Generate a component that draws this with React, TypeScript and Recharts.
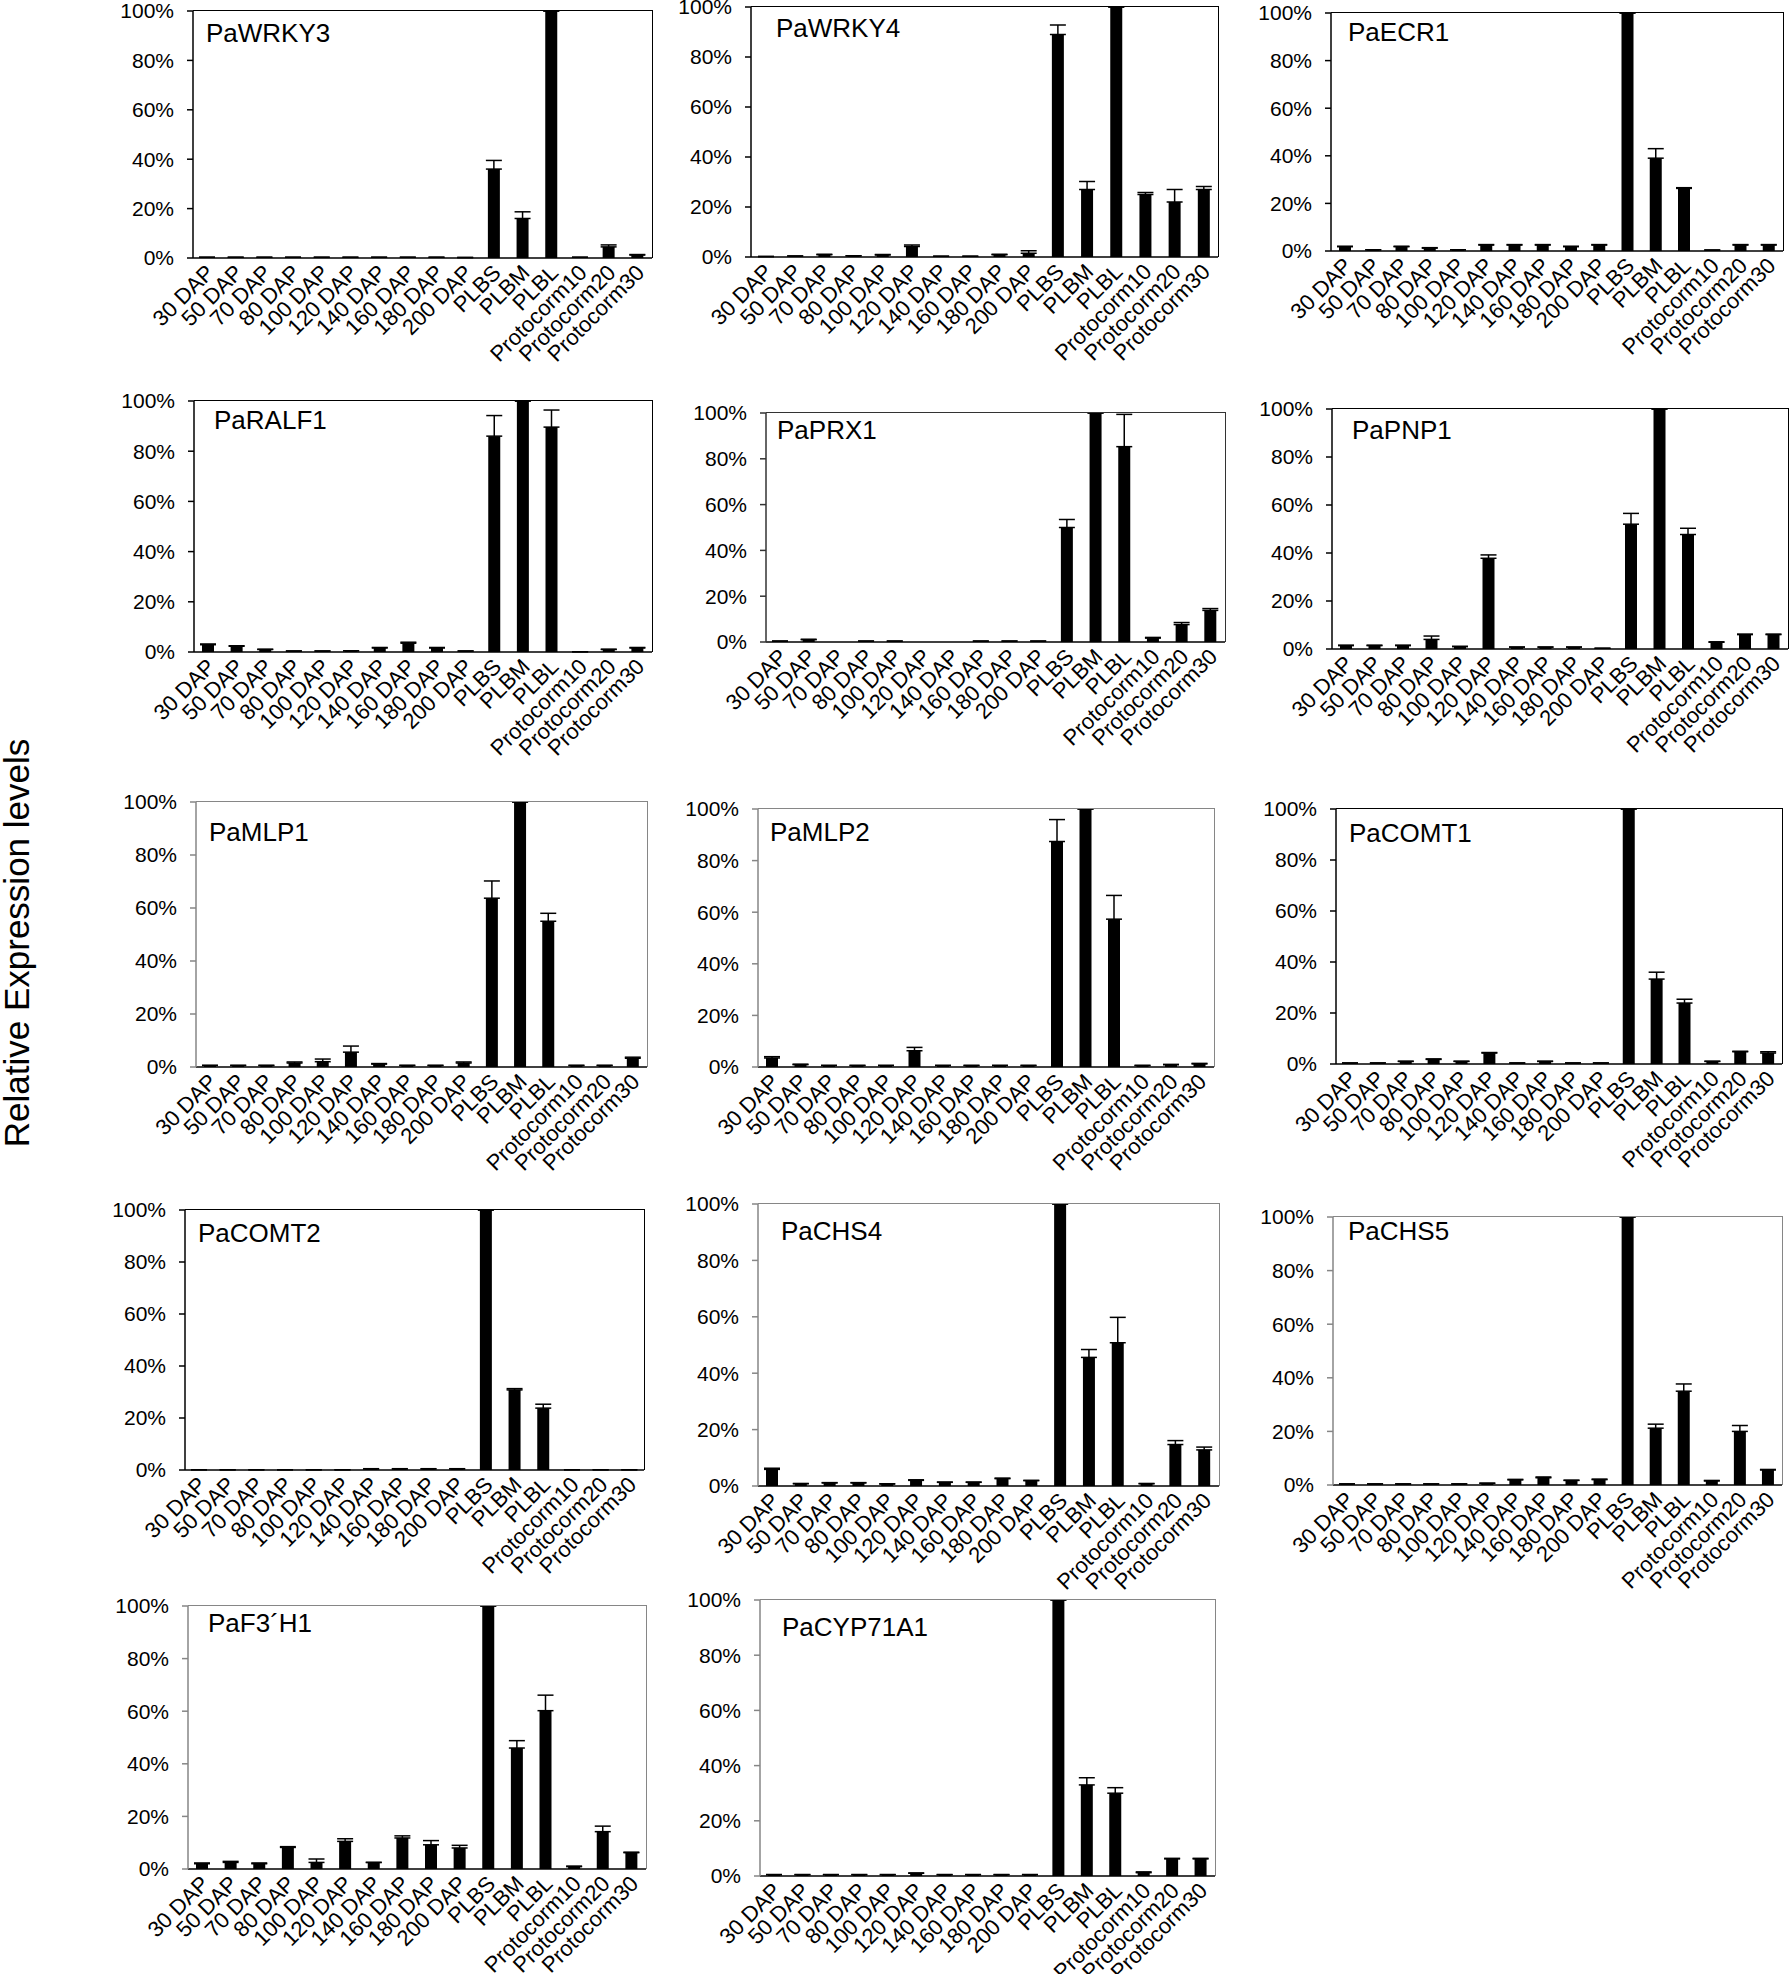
import React from "react";
import { BarChart, Bar, XAxis, YAxis, ErrorBar } from "recharts";

const CATEGORIES = [
  "30 DAP", "50 DAP", "70 DAP", "80 DAP", "100 DAP", "120 DAP", "140 DAP", "160 DAP",
  "180 DAP", "200 DAP", "PLBS", "PLBM", "PLBL", "Protocorm10", "Protocorm20", "Protocorm30",
];
const Y_TICKS = [0, 20, 40, 60, 80, 100];

const WRKY3_VALUES = [0.3, 0.3, 0.3, 0.3, 0.3, 0.3, 0.3, 0.3, 0.3, 0.2, 36, 16, 100, 0.3, 4.5, 1.2];
const WRKY3_ERRORS = [0, 0, 0, 0, 0, 0, 0, 0, 0, 0, 3.5, 2.7, 0, 0, 0.8, 0.2];
const WRKY4_VALUES = [0.2, 0.4, 0.9, 0.5, 0.8, 4.2, 0.3, 0.3, 0.9, 1.5, 89, 27, 100, 25, 22, 27];
const WRKY4_ERRORS = [0, 0, 0.2, 0, 0.2, 0.6, 0, 0, 0.2, 1, 3.8, 3.2, 0, 0.8, 5, 1.2];
const ECR1_VALUES = [1.8, 0.5, 1.8, 1.2, 0.5, 2.5, 2.5, 2.5, 1.8, 2.5, 100, 39, 26.3, 0.4, 2.5, 2.5];
const ECR1_ERRORS = [0.2, 0, 0.2, 0.2, 0, 0.2, 0.2, 0.2, 0.2, 0.2, 0, 4, 0.3, 0, 0.2, 0.2];
const RALF1_VALUES = [2.9, 2.3, 1, 0.4, 0.4, 0.5, 1.6, 3.5, 1.6, 0.4, 86, 100, 89.6, 0.1, 1, 1.6];
const RALF1_ERRORS = [0.3, 0.2, 0.1, 0, 0, 0, 0.2, 0.4, 0.2, 0, 8.2, 0, 6.8, 0, 0.1, 0.2];
const PRX1_VALUES = [0.4, 1, 0, 0.4, 0.4, 0, 0, 0.4, 0.4, 0.4, 50, 100, 85.3, 1.7, 7.6, 13.8];
const PRX1_ERRORS = [0, 0.2, 0, 0, 0, 0, 0, 0, 0, 0, 3.5, 0, 14.1, 0.3, 0.9, 0.8];
const PNP1_VALUES = [1.4, 1.4, 1.4, 4, 1, 37.8, 0.8, 0.8, 0.8, 0.3, 52, 100, 47.7, 2.8, 6, 6];
const PNP1_ERRORS = [0.2, 0.2, 0.2, 1.4, 0.1, 1.4, 0, 0, 0, 0, 4.5, 0, 2.6, 0.2, 0.2, 0.2];
const MLP1_VALUES = [0.6, 0.6, 0.6, 1.5, 2, 5.6, 1.1, 0.6, 0.6, 1.5, 63.7, 100, 55, 0.6, 0.6, 3.3];
const MLP1_ERRORS = [0, 0, 0, 0.4, 1, 2.3, 0.2, 0, 0, 0.4, 6.5, 0, 3, 0, 0, 0.4];
const MLP2_VALUES = [3.5, 0.9, 0.6, 0.6, 0.6, 6.3, 0.6, 0.6, 0.6, 0.6, 87.4, 100, 57.3, 0.6, 0.9, 1.2];
const MLP2_ERRORS = [0.5, 0.2, 0, 0, 0, 1.3, 0, 0, 0, 0, 8.5, 0, 9.2, 0, 0.1, 0.2];
const COMT1_VALUES = [0.4, 0.4, 1, 1.8, 1, 4.3, 0.4, 1, 0.4, 0.4, 100, 33.3, 23.9, 1, 4.8, 4.3];
const COMT1_ERRORS = [0, 0, 0.1, 0.2, 0.1, 0.2, 0, 0.1, 0, 0, 0, 2.7, 1.5, 0.1, 0.2, 0.5];
const COMT2_VALUES = [0.1, 0.1, 0.1, 0.1, 0.1, 0.1, 0.4, 0.4, 0.4, 0.4, 100, 30.8, 23.8, 0.1, 0.1, 0.1];
const COMT2_ERRORS = [0, 0, 0, 0, 0, 0, 0.1, 0.1, 0.1, 0.1, 0, 0.5, 1.5, 0, 0, 0];
const CHS4_VALUES = [5.9, 0.8, 1.1, 1.1, 0.7, 2, 1.3, 1.3, 2.6, 1.9, 100, 45.6, 50.8, 0.8, 14.7, 12.8];
const CHS4_ERRORS = [0.4, 0.1, 0.1, 0.1, 0.1, 0.2, 0.1, 0.1, 0.2, 0.1, 0, 2.8, 9, 0.1, 1.4, 1];
const CHS5_VALUES = [0.4, 0.4, 0.4, 0.4, 0.4, 0.6, 1.9, 2.7, 1.7, 2, 100, 21.2, 35, 1.5, 20, 5.6];
const CHS5_ERRORS = [0, 0, 0, 0, 0, 0.1, 0.2, 0.3, 0.1, 0.2, 0, 1.5, 2.7, 0.2, 2.2, 0.2];
const F3H1_VALUES = [2, 2.5, 2, 8.2, 2.5, 10.5, 2.5, 11.8, 9.2, 8, 100, 46, 60.2, 0.9, 14.2, 6.2];
const F3H1_ERRORS = [0.3, 0.4, 0.3, 0.3, 1.3, 1, 0, 0.8, 1.6, 1, 0, 2.8, 5.9, 0.2, 2.1, 0.2];
const CYP71A1_VALUES = [0.5, 0.5, 0.5, 0.5, 0.5, 1, 0.5, 0.5, 0.5, 0.5, 100, 33, 30, 1.2, 6.2, 6.2];
const CYP71A1_ERRORS = [0, 0, 0, 0, 0, 0.1, 0, 0, 0, 0, 0, 2.6, 2, 0.3, 0.2, 0.2];

const GENES = [
  { name: "PaWRKY3", values: WRKY3_VALUES, errors: WRKY3_ERRORS },
  { name: "PaWRKY4", values: WRKY4_VALUES, errors: WRKY4_ERRORS },
  { name: "PaECR1", values: ECR1_VALUES, errors: ECR1_ERRORS },
  { name: "PaRALF1", values: RALF1_VALUES, errors: RALF1_ERRORS },
  { name: "PaPRX1", values: PRX1_VALUES, errors: PRX1_ERRORS },
  { name: "PaPNP1", values: PNP1_VALUES, errors: PNP1_ERRORS },
  { name: "PaMLP1", values: MLP1_VALUES, errors: MLP1_ERRORS },
  { name: "PaMLP2", values: MLP2_VALUES, errors: MLP2_ERRORS },
  { name: "PaCOMT1", values: COMT1_VALUES, errors: COMT1_ERRORS },
  { name: "PaCOMT2", values: COMT2_VALUES, errors: COMT2_ERRORS },
  { name: "PaCHS4", values: CHS4_VALUES, errors: CHS4_ERRORS },
  { name: "PaCHS5", values: CHS5_VALUES, errors: CHS5_ERRORS },
  { name: "PaF3´H1", values: F3H1_VALUES, errors: F3H1_ERRORS },
  { name: "PaCYP71A1", values: CYP71A1_VALUES, errors: CYP71A1_ERRORS },
];

// plot-area box of every panel on the page (px), title offset inside it, frame colour
const GRAY = "#868686";
const LAYOUT = [
  { l: 193, r: 652, t: 11, b: 258, tx: 13, ty: 31, frame: "#000" },
  { l: 751, r: 1218, t: 7, b: 257, tx: 25, ty: 30, frame: "#000" },
  { l: 1331, r: 1783, t: 13, b: 251, tx: 17, ty: 28, frame: "#000" },
  { l: 194, r: 652, t: 401, b: 652, tx: 20, ty: 28, frame: "#000" },
  { l: 766, r: 1225, t: 413, b: 642, tx: 11, ty: 26, frame: "#333" },
  { l: 1332, r: 1788, t: 409, b: 649, tx: 20, ty: 30, frame: "#000" },
  { l: 196, r: 647, t: 802, b: 1067, tx: 13, ty: 39, frame: GRAY },
  { l: 758, r: 1214, t: 809, b: 1067, tx: 12, ty: 32, frame: GRAY },
  { l: 1336, r: 1782, t: 809, b: 1064, tx: 13, ty: 33, frame: "#000" },
  { l: 185, r: 644, t: 1210, b: 1470, tx: 13, ty: 32, frame: "#000" },
  { l: 758, r: 1219, t: 1204, b: 1486, tx: 23, ty: 36, frame: GRAY },
  { l: 1333, r: 1782, t: 1217, b: 1485, tx: 15, ty: 23, frame: GRAY },
  { l: 188, r: 646, t: 1606, b: 1869, tx: 20, ty: 26, frame: GRAY },
  { l: 760, r: 1215, t: 1600, b: 1876, tx: 22, ty: 36, frame: GRAY },
];

const FONT = "'Liberation Sans', Arial, Helvetica, sans-serif";
const Y_AXIS_W = 80;
const X_AXIS_H = 150;
const M_TOP = 20;
const M_RIGHT = 6;

const CategoryTick = (props: any) => {
  const { x, y, payload } = props;
  return (
    <text
      x={0}
      y={0}
      transform={`translate(${x + 8},${y + 16}) rotate(-45)`}
      textAnchor="end"
      fontSize={22}
      fontFamily={FONT}
      fill="#000"
    >
      {payload.value}
    </text>
  );
};

function Panel({ gene, box }: { gene: (typeof GENES)[number]; box: (typeof LAYOUT)[number] }) {
  const data = CATEGORIES.map((c, i) => ({
    category: c,
    value: gene.values[i],
    err: [0, gene.errors[i]],
  }));
  const plotW = box.r - box.l;
  const plotH = box.b - box.t;
  const width = plotW + Y_AXIS_W + M_RIGHT;
  const height = plotH + M_TOP + X_AXIS_H;
  const frameLine = { stroke: box.frame, strokeWidth: 1.5 };

  return (
    <div style={{ position: "absolute", left: box.l - Y_AXIS_W, top: box.t - M_TOP, width, height }}>
      <BarChart
        width={width}
        height={height}
        data={data}
        barSize={12}
        margin={{ top: M_TOP, right: M_RIGHT, bottom: 0, left: 0 }}
      >
        <XAxis
          dataKey="category"
          interval={0}
          height={X_AXIS_H}
          tickLine={false}
          tickSize={0}
          tickMargin={0}
          tick={(p: any) => <CategoryTick {...p} />}
          axisLine={{ stroke: "#000", strokeWidth: 1.5 }}
        />
        <YAxis
          domain={[0, 100]}
          ticks={Y_TICKS}
          width={Y_AXIS_W}
          tickSize={6}
          tickMargin={13}
          tickFormatter={(v) => `${v}%`}
          tick={{ fontSize: 21, fill: "#000", fontFamily: FONT }}
          tickLine={frameLine}
          axisLine={frameLine}
          allowDataOverflow
        />
        <Bar dataKey="value" fill="#000" isAnimationActive={false}>
          <ErrorBar dataKey="err" direction="y" width={8} stroke="#000" strokeWidth={1.5} />
        </Bar>
      </BarChart>
      {/* top and right edges of the plot frame */}
      <div
        style={{
          position: "absolute",
          left: Y_AXIS_W,
          top: M_TOP - 0.75,
          width: plotW + 0.75,
          height: plotH + 0.75,
          boxSizing: "border-box",
          borderTop: `1.5px solid ${box.frame}`,
          borderRight: `1.5px solid ${box.frame}`,
          pointerEvents: "none",
        }}
      />
      <div
        style={{
          position: "absolute",
          left: Y_AXIS_W + box.tx,
          top: M_TOP + box.ty - 22,
          fontSize: 26,
          lineHeight: "26px",
          fontFamily: FONT,
          color: "#000",
          whiteSpace: "nowrap",
        }}
      >
        {gene.name}
      </div>
    </div>
  );
}

export default function App() {
  return (
    <div
      style={{
        position: "absolute",
        left: 0,
        top: 0,
        width: 1791,
        height: 1974,
        background: "#fff",
        overflow: "hidden",
      }}
    >
      <svg width={44} height={1974} style={{ position: "absolute", left: 0, top: 0 }}>
        <text
          x={0}
          y={0}
          transform="translate(29,943) rotate(-90)"
          textAnchor="middle"
          fontSize={35}
          fontFamily={FONT}
          fill="#000"
        >
          Relative Expression levels
        </text>
      </svg>
      {GENES.map((g, i) => (
        <Panel key={g.name} gene={g} box={LAYOUT[i]} />
      ))}
    </div>
  );
}
